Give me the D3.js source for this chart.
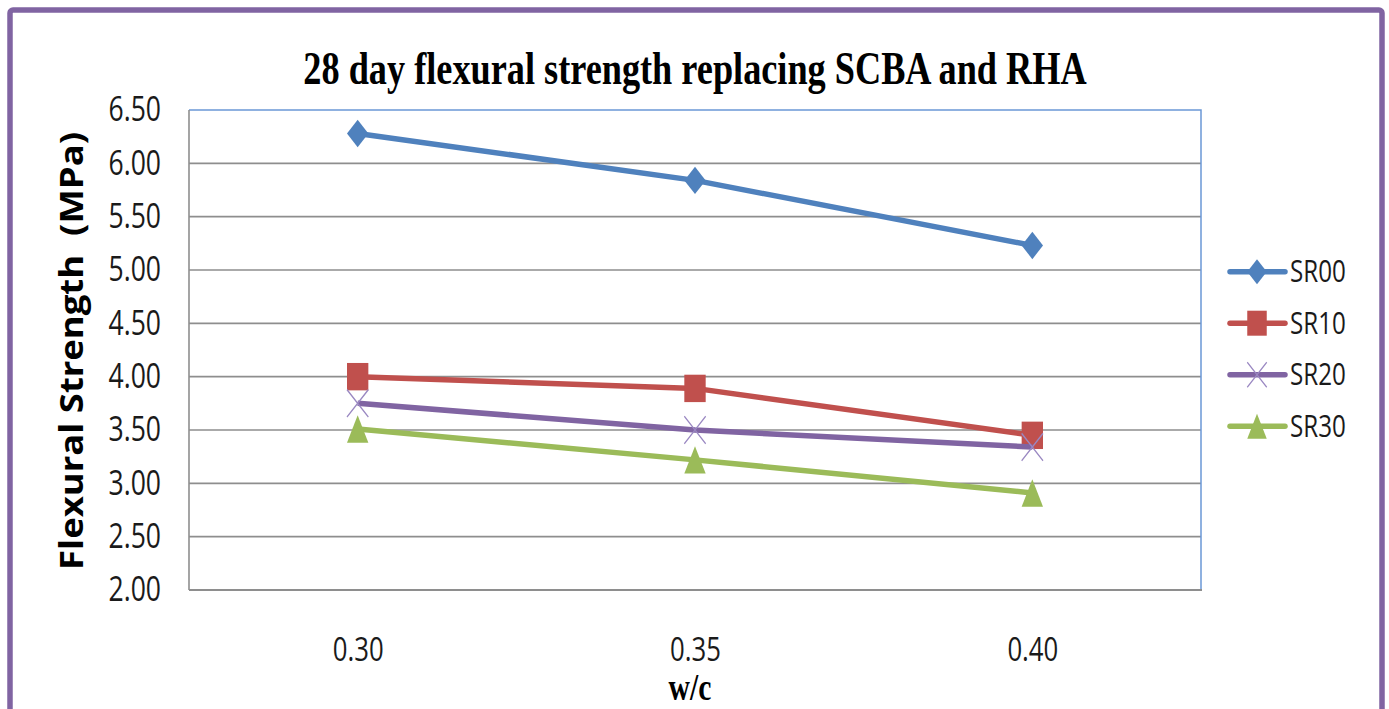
<!DOCTYPE html>
<html>
<head>
<meta charset="utf-8">
<script src="https://cdn.jsdelivr.net/npm/d3@7"></script>
<style>
    html, body { margin: 0; padding: 0; background: #fff; }
    svg { display: block; }
</style>
</head>
<body>
<svg id="chart" width="1389" height="709"></svg>
<script>
// Data
const categories = ["0.30", "0.35", "0.40"];
const seriesNames = ["SR00", "SR10", "SR20", "SR30"];
const sr00 = [6.28, 5.84, 5.23];
const sr10 = [4.00, 3.89, 3.45];
const sr20 = [3.75, 3.50, 3.34];
const sr30 = [3.51, 3.22, 2.91];
const yTicks = [2.00, 2.50, 3.00, 3.50, 4.00, 4.50, 5.00, 5.50, 6.00, 6.50];

const titleText = "28 day flexural strength replacing SCBA and RHA";
const xTitle = "w/c";
const yTitle = "Flexural Strength  (MPa)";

// the original picture is squeezed sideways, so text and markers get this x scale
const SX = 0.78;

const series = [
    {name: seriesNames[0], values: sr00, color: "#4F81BD", marker: "diamond"},
    {name: seriesNames[1], values: sr10, color: "#C0504D", marker: "square"},
    {name: seriesNames[2], values: sr20, color: "#8064A2", marker: "cross"},
    {name: seriesNames[3], values: sr30, color: "#9BBB59", marker: "triangle"},
];

const plot = {left: 189, right: 1201, top: 110, bottom: 590};

const svg = d3.select("#chart");

// outer frame
svg.append("rect")
    .attr("x", 10).attr("y", 10)
    .attr("width", 1372).attr("height", 740)
    .attr("rx", 3)
    .attr("fill", "#fff")
    .attr("stroke", "#8064A2")
    .attr("stroke-width", 5.5);

const x = d3.scalePoint()
    .domain(categories)
    .range([plot.left, plot.right])
    .padding(0.5);

const y = d3.scaleLinear()
    .domain([2, 6.5])
    .range([plot.bottom, plot.top]);

// gridlines
svg.append("g")
    .selectAll("line")
    .data(yTicks.filter(t => t > 2 && t < 6.5))
    .join("line")
    .attr("x1", plot.left).attr("x2", plot.right)
    .attr("y1", d => y(d)).attr("y2", d => y(d))
    .attr("stroke", "#8e8e8e")
    .attr("stroke-width", 1.6);

// plot border: blue top/right, grey axes
svg.append("path")
    .attr("d", `M${plot.left},${y(6.5)}H${plot.right}V${plot.bottom}`)
    .attr("fill", "none")
    .attr("stroke", "#6b98d6")
    .attr("stroke-width", 1.5);

svg.append("line")
    .attr("x1", plot.left).attr("x2", plot.left)
    .attr("y1", plot.top).attr("y2", plot.bottom)
    .attr("stroke", "#8e8e8e").attr("stroke-width", 1.6);

svg.append("line")
    .attr("x1", plot.left).attr("x2", plot.right + 1)
    .attr("y1", plot.bottom).attr("y2", plot.bottom)
    .attr("stroke", "#8e8e8e").attr("stroke-width", 2);

// y axis labels
const yAxis = d3.axisLeft(y)
    .tickValues(yTicks)
    .tickFormat(d3.format(".2f"))
    .tickSize(0)
    .tickPadding(28 / SX);

const gy = svg.append("g")
    .attr("transform", `translate(${plot.left},0)`)
    .call(yAxis);
gy.select(".domain").remove();
gy.selectAll("text")
    .attr("transform", `scale(${SX},1)`)
    .attr("font-family", "'Open Sans', 'Noto Sans', sans-serif")
    .attr("font-size", 34)
    .attr("fill", "#1a1a1a");

// x axis labels
const xAxis = d3.axisBottom(x)
    .tickSize(0)
    .tickPadding(0);

const gx = svg.append("g")
    .attr("transform", `translate(0,${plot.bottom})`)
    .call(xAxis);
gx.select(".domain").remove();
gx.selectAll("text")
    .attr("y", 0)
    .attr("dy", 0)
    .attr("transform", `translate(0,71) scale(${SX},1)`)
    .attr("font-family", "'Open Sans', 'Noto Sans', sans-serif")
    .attr("font-size", 33)
    .attr("fill", "#1a1a1a");

// marker shapes, drawn at logical size then squeezed by SX
function markerPath(kind, r) {
    if (kind === "diamond") return `M0,${-r}L${r},0L0,${r}L${-r},0Z`;
    if (kind === "square") return `M${-r},${-r}H${r}V${r}H${-r}Z`;
    if (kind === "triangle") return `M0,${-r}L${r},${r}H${-r}Z`;
    return `M${-r},${-r}L${r},${r}M${r},${-r}L${-r},${r}`;
}

function drawMarker(g, kind, color, cx, cy, r) {
    const p = g.append("path")
        .attr("d", markerPath(kind, r))
        .attr("transform", `translate(${cx},${cy}) scale(${SX},1)`);
    if (kind === "cross") {
        p.attr("fill", "none")
            .attr("stroke", "#9a88c2")
            .attr("stroke-width", 1.6);
    } else {
        p.attr("fill", color);
    }
}

const line = d3.line()
    .x((d, i) => x(categories[i]))
    .y(d => y(d));

for (const s of series) {
    const g = svg.append("g");
    g.append("path")
        .datum(s.values)
        .attr("d", line)
        .attr("fill", "none")
        .attr("stroke", s.color)
        .attr("stroke-width", 5.5)
        .attr("stroke-linejoin", "round");
    s.values.forEach((v, i) => drawMarker(g, s.marker, s.color, x(categories[i]), y(v), 13.7));
}

// legend
const legend = svg.append("g");
const legendY0 = 271.7, legendStep = 51.5;
series.forEach((s, i) => {
    const ly = legendY0 + i * legendStep;
    const g = legend.append("g");
    g.append("line")
        .attr("x1", 1230).attr("x2", 1285)
        .attr("y1", ly).attr("y2", ly)
        .attr("stroke", s.color)
        .attr("stroke-width", 5.5)
        .attr("stroke-linecap", "round");
    drawMarker(g, s.marker, s.color, 1257, ly, 12.5);
    g.append("text")
        .attr("transform", `translate(1290,${ly}) scale(${SX},1)`)
        .attr("dy", "0.34em")
        .attr("font-family", "'Open Sans', 'Noto Sans', sans-serif")
        .attr("font-size", 31)
        .attr("fill", "#1a1a1a")
        .text(s.name);
});

// title
svg.append("text")
    .attr("transform", `translate(695,84) scale(${SX},1)`)
    .attr("text-anchor", "middle")
    .attr("font-family", "'Liberation Serif', 'Times New Roman', serif")
    .attr("font-weight", "bold")
    .attr("font-size", 46.5)
    .attr("fill", "#000")
    .text(titleText);

// x title
svg.append("text")
    .attr("transform", `translate(690,700) scale(${SX},1)`)
    .attr("text-anchor", "middle")
    .attr("font-family", "'Liberation Serif', 'Times New Roman', serif")
    .attr("font-weight", "bold")
    .attr("font-size", 38)
    .attr("fill", "#000")
    .text(xTitle);

// y title
svg.append("text")
    .attr("transform", `translate(83,351) scale(${SX},1) rotate(-90)`)
    .attr("text-anchor", "middle")
    .attr("font-family", "'Open Sans', 'Noto Sans', sans-serif")
    .attr("font-weight", "bold")
    .attr("font-size", 41)
    .attr("textLength", 438)
    .attr("lengthAdjust", "spacingAndGlyphs")
    .style("white-space", "pre")
    .attr("fill", "#000")
    .text(yTitle);
</script>
</body>
</html>
